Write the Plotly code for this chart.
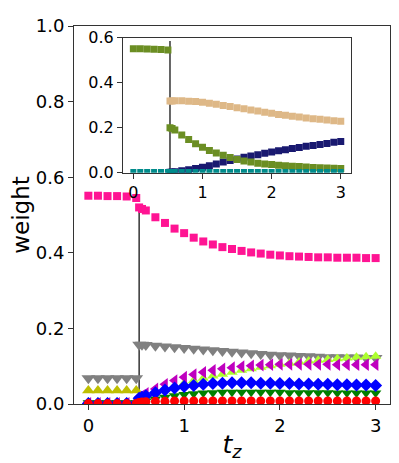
import plotly.graph_objects as go

# time grid before and after the switch
t_pre = [0.0, 0.1, 0.2, 0.3, 0.4, 0.5]
t_post = [0.53, 0.56, 0.6, 0.7, 0.8, 0.9, 1.0, 1.1, 1.2, 1.3, 1.4, 1.5, 1.6, 1.7, 1.8,
          1.9, 2.0, 2.1, 2.2, 2.3, 2.4, 2.5, 2.6, 2.7, 2.8, 2.9, 3.0]
t_switch = 0.53

# main panel weights
pink_pre = [0.551, 0.551, 0.550, 0.550, 0.549, 0.545]
pink_post = [0.520, 0.516, 0.512, 0.494, 0.479, 0.464, 0.452, 0.440, 0.430, 0.422, 0.415,
             0.410, 0.405, 0.401, 0.398, 0.395, 0.393, 0.391, 0.390, 0.389, 0.388, 0.388,
             0.387, 0.387, 0.387, 0.386, 0.386]
gray_pre = [0.068, 0.068, 0.068, 0.068, 0.068, 0.068]
gray_post = [0.157, 0.157, 0.156, 0.154, 0.152, 0.150, 0.148, 0.146, 0.144, 0.142, 0.140,
             0.138, 0.136, 0.134, 0.132, 0.130, 0.129, 0.128, 0.127, 0.126, 0.125, 0.124,
             0.124, 0.123, 0.123, 0.122, 0.122]
yellow_pre = [0.036, 0.036, 0.036, 0.036, 0.036, 0.036]
lime_pre = [0.005, 0.005, 0.005, 0.005, 0.005, 0.005]
lime_post = [0.010, 0.013, 0.018, 0.028, 0.038, 0.047, 0.055, 0.062, 0.068, 0.074, 0.079,
             0.084, 0.089, 0.093, 0.097, 0.101, 0.105, 0.108, 0.111, 0.114, 0.116, 0.118,
             0.120, 0.122, 0.124, 0.125, 0.126]
magenta_pre = [0.002, 0.002, 0.002, 0.002, 0.002, 0.002]
magenta_post = [0.018, 0.022, 0.028, 0.040, 0.052, 0.062, 0.071, 0.078, 0.084, 0.089, 0.093,
                0.096, 0.099, 0.101, 0.103, 0.104, 0.105, 0.105, 0.105, 0.105, 0.105, 0.105,
                0.104, 0.104, 0.104, 0.104, 0.104]
blue_pre = [0.001, 0.001, 0.001, 0.001, 0.001, 0.001]
blue_post = [0.015, 0.018, 0.022, 0.030, 0.037, 0.042, 0.046, 0.049, 0.052, 0.054, 0.055,
             0.056, 0.056, 0.056, 0.055, 0.055, 0.054, 0.054, 0.053, 0.053, 0.052, 0.052,
             0.051, 0.051, 0.050, 0.050, 0.049]
green_pre = [0.003, 0.003, 0.003, 0.003, 0.003, 0.003]
green_post = [0.005, 0.006, 0.008, 0.013, 0.018, 0.022, 0.025, 0.027, 0.029, 0.030, 0.031,
              0.031, 0.031, 0.031, 0.031, 0.031, 0.031, 0.030, 0.030, 0.030, 0.030, 0.030,
              0.029, 0.029, 0.029, 0.029, 0.029]
red_pre = [0.001, 0.001, 0.001, 0.001, 0.001, 0.001]
red_post = [0.004, 0.005, 0.006, 0.007, 0.007, 0.008, 0.008, 0.008, 0.008, 0.008, 0.008,
            0.008, 0.008, 0.008, 0.008, 0.008, 0.008, 0.008, 0.008, 0.008, 0.008, 0.008,
            0.008, 0.008, 0.008, 0.008, 0.008]

# inset weights
olive_pre = [0.551, 0.551, 0.550, 0.549, 0.548, 0.545]
olive_post = [0.200, 0.196, 0.190, 0.167, 0.148, 0.129, 0.113, 0.098, 0.087, 0.077, 0.067,
              0.059, 0.052, 0.047, 0.042, 0.039, 0.036, 0.033, 0.031, 0.029, 0.027, 0.025,
              0.023, 0.022, 0.021, 0.020, 0.019]
tan_post = [0.319, 0.319, 0.320, 0.320, 0.318, 0.316, 0.313, 0.309, 0.304, 0.299, 0.294,
            0.289, 0.284, 0.279, 0.274, 0.269, 0.264, 0.259, 0.255, 0.251, 0.247, 0.243,
            0.240, 0.237, 0.234, 0.231, 0.229]
navy_post = [0.002, 0.003, 0.004, 0.008, 0.013, 0.018, 0.024, 0.031, 0.039, 0.047, 0.054,
             0.061, 0.068, 0.074, 0.080, 0.086, 0.092, 0.097, 0.102, 0.107, 0.112, 0.117,
             0.121, 0.125, 0.130, 0.135, 0.139]
teal_pre = [0.003, 0.003, 0.003, 0.003, 0.003, 0.003]
teal_post = [0.003, 0.003, 0.003, 0.003, 0.003, 0.003, 0.003, 0.003, 0.003, 0.003, 0.003,
             0.003, 0.003, 0.003, 0.003, 0.003, 0.003, 0.003, 0.003, 0.003, 0.003, 0.003,
             0.003, 0.003, 0.003, 0.003, 0.003]

fig = go.Figure()


def add(x, y, color, symbol, size, xa="x", ya="y"):
    fig.add_trace(go.Scatter(x=x, y=y, mode="markers", xaxis=xa, yaxis=ya,
                             marker=dict(color=color, symbol=symbol, size=size, line=dict(width=0)),
                             showlegend=False, hoverinfo="skip"))


main = [
    (pink_pre, pink_post, "#ff1493", "square", 8),
    (gray_pre, gray_post, "#808080", "triangle-down", 12),
    (yellow_pre, None, "#bfbf00", "triangle-up", 11),
    (lime_pre, lime_post, "#adff2f", "triangle-up", 10),
    (magenta_pre, magenta_post, "#bf00bf", "triangle-left", 11),
    (green_pre, green_post, "#008000", "triangle-down", 10),
    (blue_pre, blue_post, "#0000ff", "diamond", 10),
    (red_pre, red_post, "#ff0000", "circle", 9),
]
for pre, post, c, s, sz in main:
    add(t_pre, pre, c, s, sz)
    if post is not None:
        add(t_post, post, c, s, sz)

add(t_post, tan_post, "#deb887", "square", 7, "x2", "y2")
add(t_post, navy_post, "#191970", "square", 7, "x2", "y2")
add(t_pre, olive_pre, "#6b8e23", "square", 7, "x2", "y2")
add(t_post, olive_post, "#6b8e23", "square", 7, "x2", "y2")
add(t_pre, teal_pre, "#008b8b", "square", 6, "x2", "y2")
add(t_post, teal_post, "#008b8b", "square", 6, "x2", "y2")

fig.add_shape(type="line", xref="x", yref="y", x0=t_switch, x1=t_switch, y0=0, y1=0.52,
              line=dict(color="black", width=1.2), layer="below")
fig.add_shape(type="line", xref="x2", yref="y2", x0=t_switch, x1=t_switch, y0=0, y1=0.585,
              line=dict(color="black", width=1.2), layer="below")

ax = dict(showline=True, mirror=True, linecolor="#333", linewidth=1, ticks="outside",
          ticklen=5, tickcolor="#333", showgrid=False, zeroline=False)
# page body adds an 8px margin, so the figure is drawn 8px smaller
fig.update_layout(
    width=391, height=455,
    margin=dict(l=66, r=9, t=7, b=59),
    paper_bgcolor="white", plot_bgcolor="white",
    font=dict(family="DejaVu Sans", color="black"),
    xaxis=dict(ax, domain=[0, 1], range=[-0.15, 3.15], tickvals=[0, 1, 2, 3],
               tickfont=dict(size=18),
               title=dict(text="<i>t</i><sub><i>z</i></sub>", font=dict(size=25), standoff=0)),
    yaxis=dict(ax, domain=[0, 1], range=[0, 1.0], tickvals=[0, 0.2, 0.4, 0.6, 0.8, 1.0],
               tickformat=".1f", tickfont=dict(size=18),
               title=dict(text="weight", font=dict(size=23), standoff=5)),
    xaxis2=dict(ax, domain=[0.155, 0.877], anchor="y2", range=[-0.15, 3.15],
                tickvals=[0, 1, 2, 3], tickfont=dict(size=16)),
    yaxis2=dict(ax, domain=[0.612, 0.969], anchor="x2", range=[0, 0.6],
                tickvals=[0, 0.2, 0.4, 0.6], tickformat=".1f", tickfont=dict(size=16)),
)

fig.write_html("out.html")
